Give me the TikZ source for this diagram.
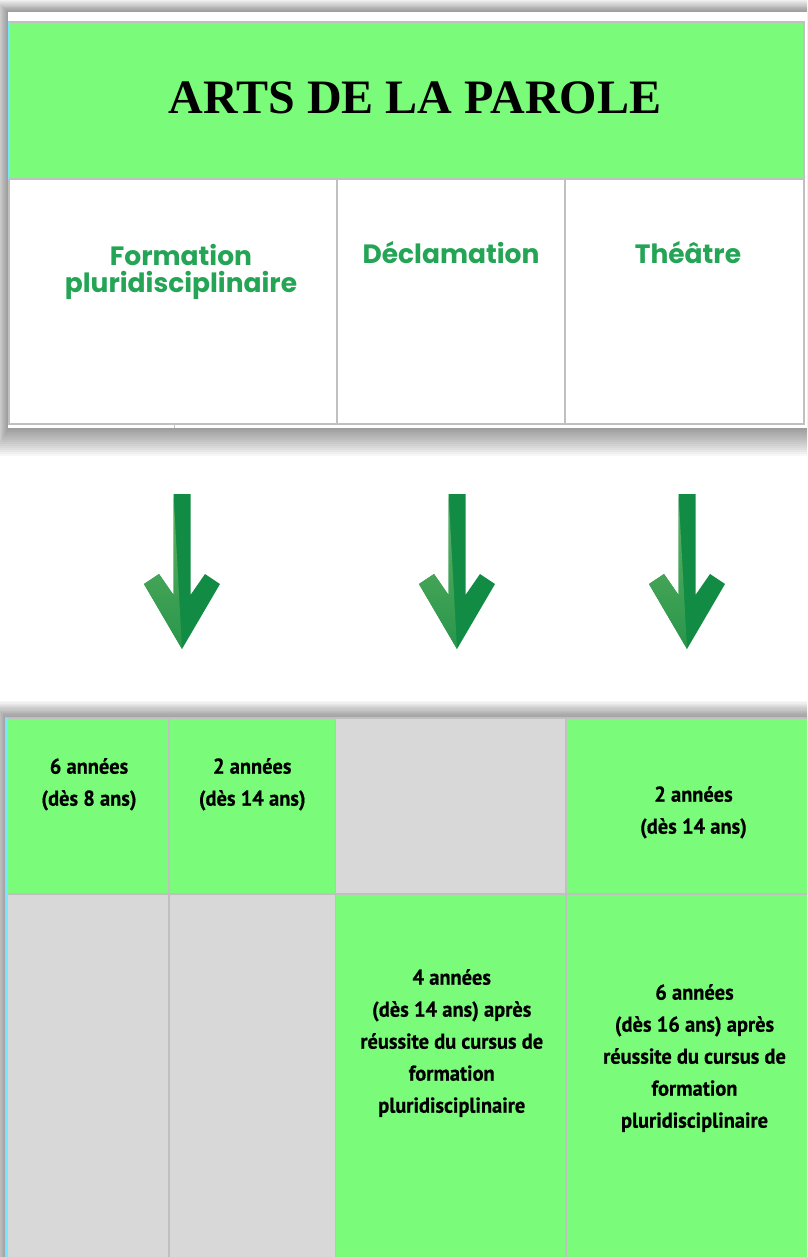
\documentclass[tikz,border=0pt]{standalone}
\usepackage{fontspec}
\usetikzlibrary{positioning}
\newfontfamily\titrefont{Liberation Serif}
\newfontfamily\entetefont{Poppins}
\newfontfamily\cellulefont{PT Sans}[UprightFont={* Bold}, FakeStretch=0.95, FakeBold=0.6]
\definecolor{vert}{RGB}{122,252,122}
\definecolor{gris}{RGB}{216,216,216}
\definecolor{trait}{RGB}{192,192,192}
\definecolor{verttexte}{RGB}{35,165,85}
\definecolor{vertfonce}{RGB}{18,140,68}
\definecolor{vertclair}{RGB}{98,178,98}
\definecolor{vertmoyen}{RGB}{40,150,75}
\definecolor{bleuclair}{RGB}{120,230,255}

\begin{document}
\begin{tikzpicture}[x=1pt, y=-1pt,
        cellule/.style={draw=trait, line width=1.2pt, inner sep=0pt, outer sep=0pt, anchor=north west},
        entete/.style={cellule, fill=white, minimum height=245pt},
        verte/.style={cellule, fill=vert},
        grise/.style={cellule, fill=gris},
        nomtxt/.style={font=\entetefont\bfseries\fontsize{26.5}{27.5}\selectfont, text=verttexte, align=center, inner sep=0pt},
        dureetxt/.style={font=\cellulefont\fontsize{21.5}{32}\selectfont, align=center, inner sep=0pt},
        fleche/.pic={
            \fill[vertfonce] (-8.5,0) -- (8.5,0) -- (8.5,101) -- (23,80) -- (38,90) -- (0,155)
                -- (-38,90) -- (-23,80) -- (-8.5,101) -- cycle;
            \shade[top color=vertclair, bottom color=vertmoyen] (-8.5,0) -- (0,155) -- (-38,90)
                -- (-23,80) -- (-8.5,101) -- cycle;
        }]
        \useasboundingbox (0,0) rectangle (807,1257);
        \clip (0,0) rectangle (807,1257);
        \fill[white] (0,0) rectangle (807,1257);

        % table du haut
        \foreach \r in {1,...,14}
            \fill[black, opacity=0.03] (8-\r,12-0.9*\r) rectangle (807+\r,428+2*\r);
        \fill[white] (8,12) rectangle (807,428);
        \node[verte, minimum width=795pt, minimum height=157pt] (titre) at (9,22) {};
        \node[font=\titrefont\bfseries\fontsize{48}{48}\selectfont, xshift=8.5pt, yshift=3pt] (titretxt) at (titre.center) {ARTS DE LA PAROLE};
        \node[entete, minimum width=328pt] (formation) at (9,179) {};
        \node[entete, minimum width=228pt, right=0pt of formation] (declamation) {};
        \node[entete, minimum width=239pt, right=0pt of declamation] (theatre) {};
        \node[nomtxt, below=65pt of formation.north, xshift=8pt] (formtxt) {Formation\\pluridisciplinaire};
        \node[nomtxt, below=62pt of declamation.north] (decltxt) {Déclamation};
        \node[nomtxt, below=62pt of theatre.north, xshift=3.5pt] (theatxt) {Théâtre};
        \draw[bleuclair, line width=2pt] (titre.north west) -- (titre.south west);
        \draw[trait, line width=1pt] (174,423) -- (174,428);

        % fleches
        \foreach \xf in {182,457,687}
            \pic at (\xf,494) {fleche};

        % table du bas
        \foreach \r in {1,...,14}
            \fill[black, opacity=0.03] (6-\r,718-1.2*\r) rectangle (811+\r,1265+\r);
        \node[verte, minimum width=163pt, minimum height=176pt] (a1) at (6,718) {};
        \node[verte, minimum width=166.5pt, minimum height=176pt, right=0pt of a1] (b1) {};
        \node[grise, minimum width=230.5pt, minimum height=176pt, right=0pt of b1] (c1) {};
        \node[verte, minimum width=245pt, minimum height=176pt, right=0pt of c1] (d1) {};
        \node[grise, minimum width=163pt, minimum height=372pt, below=0pt of a1] (a2) {};
        \node[grise, minimum width=166.5pt, minimum height=372pt, right=0pt of a2] (b2) {};
        \node[verte, minimum width=230.5pt, minimum height=372pt, right=0pt of b2] (c2) {};
        \node[verte, minimum width=245pt, minimum height=372pt, right=0pt of c2] (d2) {};
        \draw[bleuclair, line width=3pt] (a1.north west) -- (a2.south west);

        \node[dureetxt, below=40pt of a1.north, xshift=1.5pt] (a1txt) {6 années\\(dès 8 ans)};
        \node[dureetxt, below=40pt of b1.north] (b1txt) {2 années\\(dès 14 ans)};
        \node[dureetxt, below=68pt of d1.north, xshift=5pt] (d1txt) {2 années\\(dès 14 ans)};
        \node[dureetxt, below=75pt of c2.north, xshift=1pt] (c2txt) {4 années\\(dès 14 ans) après\\réussite du cursus de\\formation\\pluridisciplinaire};
        \node[dureetxt, below=90pt of d2.north, xshift=6pt] (d2txt) {6 années\\(dès 16 ans) après\\réussite du cursus de\\formation\\pluridisciplinaire};
\end{tikzpicture}
\end{document}
